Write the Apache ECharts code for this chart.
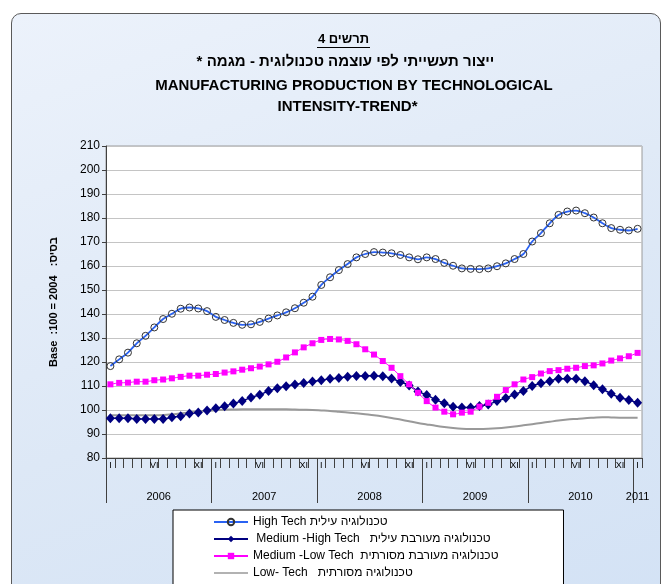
<!DOCTYPE html>
<html>
<head>
<meta charset="utf-8">
<script src="https://cdn.jsdelivr.net/npm/echarts@6/dist/echarts.min.js"></script>
<style>
  html, body { margin: 0; padding: 0; background: #fff; }
  #frame {
    position: absolute; left: 11px; top: 13px; width: 648px; height: 600px;
    border: 1px solid #5a5a5a; border-radius: 10px;
    background: linear-gradient(160deg, #ecf2fb 0%, #dde8f6 55%, #d3e2f5 100%);
  }
  #chart { position: absolute; left: 0; top: 0; width: 668px; height: 584px; }
</style>
</head>
<body>
<div id="frame"></div>
<div id="chart"></div>
<script>
// tarshim 4: manufacturing production by technological intensity (trend), Jan 2006 - Jan 2011
var monthMarks = ['I', '', '', '', '', 'VI', '', '', '', '', 'XI', ''];
var years = ['2006', '2007', '2008', '2009', '2010', '2011'];

var highTech = [
  118.3, 121.1, 123.9, 127.8, 130.9, 134.4, 137.9, 140.1, 142.2, 142.7, 142.3, 141.2,
  138.8, 137.5, 136.3, 135.5, 135.7, 136.7, 138.1, 139.4, 140.7, 142.4, 144.7, 147.2,
  152.1, 155.3, 158.3, 160.8, 163.6, 165.0, 165.8, 165.6, 165.3, 164.6, 163.6, 162.8,
  163.6, 162.9, 161.3, 160.1, 159.0, 158.8, 158.7, 159.0, 159.9, 161.1, 162.9, 165.0,
  170.2, 173.7, 177.8, 181.3, 182.7, 183.1, 182.0, 180.2, 177.8, 175.8, 175.1, 174.8,
  175.5
];
var mediumHigh = [
  96.6, 96.6, 96.6, 96.3, 96.3, 96.3, 96.3, 97.0, 97.4, 98.5, 99.0, 99.8,
  100.7, 101.6, 102.7, 103.8, 105.2, 106.4, 107.9, 109.1, 109.9, 110.6, 111.2, 111.9,
  112.4, 113.0, 113.3, 113.9, 114.2, 114.2, 114.3, 114.1, 113.1, 111.7, 110.2, 107.7,
  106.3, 104.3, 102.8, 101.4, 101.0, 101.0, 101.7, 102.3, 103.7, 105.0, 106.5, 107.9,
  110.0, 111.1, 112.0, 113.0, 113.0, 113.0, 112.0, 110.3, 108.6, 106.8, 105.1, 104.2,
  103.0
];
var mediumLow = [
  110.7, 111.3, 111.4, 111.8, 111.8, 112.4, 112.7, 113.2, 113.8, 114.3, 114.3, 114.7,
  115.0, 115.6, 116.1, 116.8, 117.4, 118.1, 119.0, 120.1, 121.9, 124.0, 126.1, 127.8,
  129.2, 129.6, 129.4, 128.8, 127.4, 125.3, 123.1, 120.4, 117.6, 114.1, 110.7, 107.2,
  103.7, 101.0, 99.3, 98.2, 98.9, 99.3, 101.4, 103.0, 105.5, 108.3, 110.7, 112.7,
  113.7, 115.2, 116.2, 116.6, 117.2, 117.6, 118.3, 118.6, 119.4, 120.6, 121.5, 122.4,
  123.8
];
var lowTech = [
  97.8, 97.8, 97.8, 97.8, 97.8, 97.8, 97.9, 98.2, 98.6, 99.0, 99.4, 99.7,
  99.9, 100.1, 100.2, 100.3, 100.3, 100.3, 100.3, 100.3, 100.3, 100.2, 100.1, 100.0,
  99.8, 99.6, 99.3, 99.0, 98.6, 98.2, 97.8, 97.3, 96.7, 96.0, 95.3, 94.6,
  94.0, 93.4, 92.9, 92.5, 92.2, 92.1, 92.1, 92.2, 92.4, 92.7, 93.1, 93.6,
  94.1, 94.6, 95.1, 95.6, 96.0, 96.3, 96.6, 96.8, 97.0, 96.9, 96.8, 96.8,
  96.8
];

var names = [
  'High Tech טכנולוגיה עילית',
  ' Medium -High Tech   טכנולוגיה מעורבת עילית',
  'Medium -Low Tech  טכנולוגיה מעורבת מסורתית',
  'Low- Tech   טכנולוגיה מסורתית'
];

// category per month, 2006-01 .. 2011-01
var months = [];
for (var i = 0; i < highTech.length; i++) {
  months.push(years[Math.floor(i / 12)] + '-' + (i % 12 + 1));
}

var font = 'Liberation Sans, Arial, DejaVu Sans, sans-serif';

var chart = echarts.init(document.getElementById('chart'), null, { renderer: 'canvas' });

var option = {
  backgroundColor: 'transparent',
  animation: false,
  textStyle: { fontFamily: font },
  graphic: [
    { type: 'text', x: 343.5, y: 39.5, style: { text: '4 תרשים', font: 'bold 13px ' + font, fill: '#000', align: 'center', verticalAlign: 'middle' } },
    { type: 'line', shape: { x1: 317, y1: 47.5, x2: 370, y2: 47.5 }, style: { stroke: '#000', lineWidth: 1 } },
    { type: 'text', x: 345.5, y: 62, style: { text: '* ייצור תעשייתי לפי עוצמה טכנולוגית - מגמה', font: 'bold 15px ' + font, fill: '#000', align: 'center', verticalAlign: 'middle' } },
    { type: 'text', x: 354, y: 86, style: { text: 'MANUFACTURING PRODUCTION BY TECHNOLOGICAL', font: 'bold 15px ' + font, fill: '#000', align: 'center', verticalAlign: 'middle' } },
    { type: 'text', x: 347.5, y: 107, style: { text: 'INTENSITY-TREND*', font: 'bold 15px ' + font, fill: '#000', align: 'center', verticalAlign: 'middle' } }
  ],
  grid: {
    left: 106, top: 146, width: 536, height: 312,
    show: true, backgroundColor: '#ffffff', borderColor: '#9a9a9a', borderWidth: 1
  },
  legend: {
    orient: 'vertical',
    left: 173, top: 510, height: 80,
    itemWidth: 34, itemHeight: 8, itemGap: 5,
    padding: [6, 65, 12, 40],
    backgroundColor: '#ffffff', borderColor: '#000', borderWidth: 1,
    textStyle: { fontSize: 12, color: '#000', fontFamily: font },
    data: [
      names[0], names[1], names[2],
      // plain line icon for the series without markers
      { name: names[3], icon: 'path://M0,0 M0,3.2 L34,3.2 L34,4.8 L0,4.8 Z M34,8' }
    ]
  },
  xAxis: [
    {
      type: 'category',
      data: months,
      boundaryGap: true,
      axisLine: { lineStyle: { color: '#404040', width: 1 } },
      axisTick: { show: true, interval: 0, length: 10, lineStyle: { color: '#404040' } },
      axisLabel: {
        interval: 0, margin: 3, fontSize: 9, color: '#000',
        formatter: function (v, idx) { return monthMarks[idx % 12]; }
      },
      splitLine: { show: false }
    },
    {
      type: 'value',
      position: 'bottom',
      min: 0, max: months.length,
      axisLine: { show: false },
      axisTick: { show: true, customValues: [0, 12, 24, 36, 48, 60], length: 45, lineStyle: { color: '#404040' } },
      axisLabel: {
        customValues: [6, 18, 30, 42, 54, 60.5],
        margin: 33, fontSize: 11, color: '#000',
        formatter: function (v) { return years[Math.floor(v / 12)]; }
      },
      splitLine: { show: false }
    }
  ],
  yAxis: {
    type: 'value',
    min: 80, max: 210, interval: 10,
    name: 'Base  :100 = 2004   :בסיס',
    nameLocation: 'middle',
    nameRotate: 90,
    nameGap: 47,
    nameTextStyle: { fontSize: 11, fontWeight: 'bold', color: '#000', fontFamily: font },
    axisLine: { show: true, lineStyle: { color: '#404040' } },
    axisTick: { show: true, length: 4, lineStyle: { color: '#404040' } },
    axisLabel: { fontSize: 12, color: '#000', margin: 6 },
    splitLine: { lineStyle: { color: '#c4c4c4', width: 1 } }
  },
  series: [
    {
      name: names[0], type: 'line', data: highTech,
      smooth: 0.3, showAllSymbol: true,
      symbol: 'circle', symbolSize: 7,
      lineStyle: { color: '#2a62f2', width: 1.8 },
      itemStyle: { color: 'rgba(255,255,255,0)', borderColor: '#333333', borderWidth: 1 }
    },
    {
      name: names[1], type: 'line', data: mediumHigh,
      smooth: 0.3, showAllSymbol: true,
      symbol: 'diamond', symbolSize: [9, 10],
      lineStyle: { color: '#000080', width: 1.5 },
      itemStyle: { color: '#000080' }
    },
    {
      name: names[2], type: 'line', data: mediumLow,
      smooth: 0.3, showAllSymbol: true,
      symbol: 'rect', symbolSize: 6,
      lineStyle: { color: '#ff00ff', width: 1 },
      itemStyle: { color: '#ff00ff' }
    },
    {
      name: names[3], type: 'line', data: lowTech,
      smooth: 0.3, showSymbol: false,
      lineStyle: { color: '#999999', width: 2 },
      itemStyle: { color: '#999999' }
    }
  ]
};

chart.setOption(option);
</script>
</body>
</html>
